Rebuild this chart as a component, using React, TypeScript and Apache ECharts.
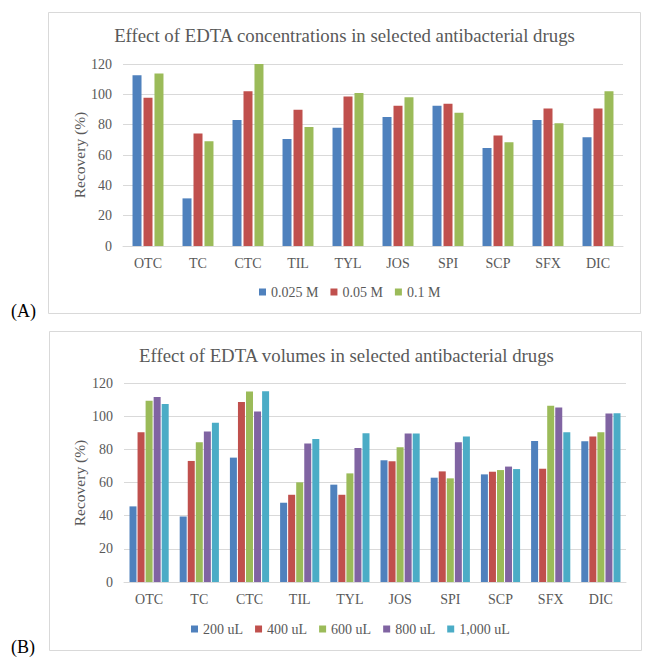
import React, { useEffect, useRef } from "react";
import * as echarts from "echarts";

const categories = ["OTC", "TC", "CTC", "TIL", "TYL", "JOS", "SPI", "SCP", "SFX", "DIC"];

const concNames = ["0.025 M", "0.05 M", "0.1 M"];
const conc0025 = [112.6, 31.4, 83.0, 70.6, 77.9, 85.0, 92.5, 64.6, 83.0, 71.7];
const conc005 = [97.8, 74.1, 102.0, 89.8, 98.5, 92.5, 93.8, 72.8, 90.7, 90.7];
const conc01 = [113.7, 69.0, 120.0, 78.5, 100.9, 98.0, 87.8, 68.4, 81.0, 102.0];

const volNames = ["200 uL", "400 uL", "600 uL", "800 uL", "1,000 uL"];
const vol200 = [45.6, 39.5, 75.0, 47.8, 58.7, 73.4, 62.9, 64.9, 85.1, 84.9];
const vol400 = [90.3, 73.0, 108.5, 52.6, 52.6, 72.8, 66.7, 66.5, 68.3, 87.7];
const vol600 = [109.3, 84.3, 114.9, 60.1, 65.5, 81.3, 62.5, 67.5, 106.3, 90.3];
const vol800 = [111.5, 90.7, 102.8, 83.5, 80.8, 89.5, 84.3, 69.6, 105.2, 101.6];
const vol1000 = [107.3, 96.0, 115.0, 86.3, 89.7, 89.5, 87.7, 68.1, 90.3, 101.8];

const yTicks = [0, 20, 40, 60, 80, 100, 120];

const titleA = "Effect of EDTA concentrations in selected antibacterial drugs";
const titleB = "Effect of EDTA volumes in selected antibacterial drugs";
const yName = "Recovery (%)";

const colorsA = ["#4F81BD", "#C0504D", "#9BBB59"];
const colorsB = ["#4F81BD", "#C0504D", "#9BBB59", "#8064A2", "#4BACC6"];

const FONT = "Liberation Serif";
const TXT = "#595959";
const GRID = "#D9D9D9";

export default function App() {
  const ref = useRef<HTMLDivElement>(null);
  useEffect(() => {
    if (!ref.current) return;
    const chart = echarts.init(ref.current, null, { renderer: "svg" });
    const xAxisCommon = (gi: number) => ({
      type: "category",
      gridIndex: gi,
      data: categories,
      axisLine: { lineStyle: { color: GRID, width: 1 } },
      axisTick: { show: false },
      axisLabel: { color: TXT, fontFamily: FONT, fontSize: 14, margin: 10 },
    });
    const yAxisCommon = (gi: number) => ({
      type: "value",
      gridIndex: gi,
      min: yTicks[0],
      max: yTicks[yTicks.length - 1],
      interval: 20,
      axisLine: { show: false },
      axisTick: { show: false },
      splitLine: { lineStyle: { color: GRID, width: 1 } },
      axisLabel: { color: TXT, fontFamily: FONT, fontSize: 14, margin: 11 },
    });
    const legendCommon = {
      itemWidth: 7,
      itemHeight: 7,
      itemGap: 12,
      padding: 0,
      icon: "rect",
      textStyle: { color: TXT, fontFamily: FONT, fontSize: 14 },
    };
    const seriesA = [conc0025, conc005, conc01].map((d, i) => ({
      name: concNames[i],
      type: "bar",
      xAxisIndex: 0,
      yAxisIndex: 0,
      data: d,
      barWidth: 9,
      barGap: "22%",
      itemStyle: { color: colorsA[i] },
    }));
    const seriesB = [vol200, vol400, vol600, vol800, vol1000].map((d, i) => ({
      name: volNames[i],
      type: "bar",
      xAxisIndex: 1,
      yAxisIndex: 1,
      data: d,
      barWidth: 7,
      barGap: "15%",
      itemStyle: { color: colorsB[i] },
    }));
    chart.setOption({
      animation: false,
      backgroundColor: "#ffffff",
      textStyle: { fontFamily: FONT },
      grid: [
        { left: 123, right: 31, top: 64, height: 182 },
        { left: 124, right: 28, top: 383, height: 199 },
      ],
      xAxis: [xAxisCommon(0), xAxisCommon(1)],
      yAxis: [yAxisCommon(0), yAxisCommon(1)],
      legend: [
        { ...legendCommon, data: concNames, left: 259, top: 285 },
        { ...legendCommon, data: volNames, left: 191, top: 622 },
      ],
      graphic: [
        {
          type: "rect",
          shape: { x: 48.5, y: 12.5, width: 592, height: 301 },
          style: { fill: "none", stroke: GRID, lineWidth: 1 },
          silent: true,
        },
        {
          type: "rect",
          shape: { x: 49.5, y: 331.5, width: 592, height: 319 },
          style: { fill: "none", stroke: GRID, lineWidth: 1 },
          silent: true,
        },
        {
          type: "text",
          x: 344.5,
          y: 35,
          style: { text: titleA, fill: TXT, font: `18.8px ${FONT}`, align: "center", verticalAlign: "middle" },
        },
        {
          type: "text",
          x: 346.5,
          y: 355,
          style: { text: titleB, fill: TXT, font: `18.8px ${FONT}`, align: "center", verticalAlign: "middle" },
        },
        {
          type: "text",
          x: 79,
          y: 155,
          rotation: Math.PI / 2,
          style: { text: yName, fill: TXT, font: `15.5px ${FONT}`, align: "center", verticalAlign: "middle" },
        },
        {
          type: "text",
          x: 79,
          y: 483,
          rotation: Math.PI / 2,
          style: { text: yName, fill: TXT, font: `15.5px ${FONT}`, align: "center", verticalAlign: "middle" },
        },
        {
          type: "text",
          x: 11,
          y: 311,
          style: { text: "(A)", fill: "#000", font: `18px ${FONT}`, align: "left", verticalAlign: "middle" },
        },
        {
          type: "text",
          x: 11,
          y: 647,
          style: { text: "(B)", fill: "#000", font: `18px ${FONT}`, align: "left", verticalAlign: "middle" },
        },
      ],
      series: [...seriesA, ...seriesB],
    } as any);
    return () => chart.dispose();
  }, []);
  return (
    <div
      ref={ref}
      style={{ position: "absolute", left: 0, top: 0, width: 654, height: 668 }}
    />
  );
}
